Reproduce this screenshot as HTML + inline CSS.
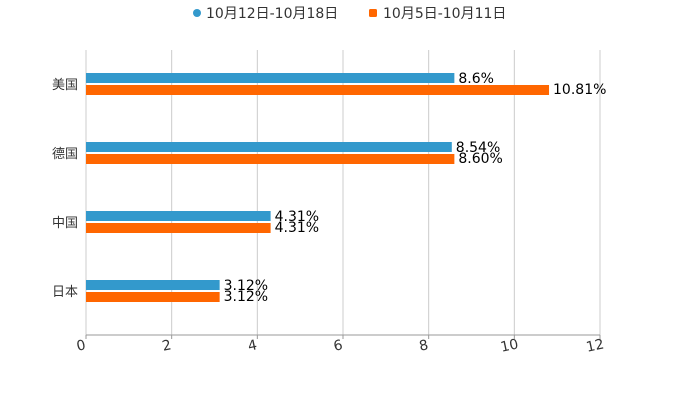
<!DOCTYPE html>
<html><head><meta charset="utf-8"><style>
body{margin:0;background:#fff;}
svg text{font-family:"DejaVu Sans","Noto Sans CJK SC",sans-serif;}
</style></head><body>
<svg id="c" width="700" height="400" xmlns="http://www.w3.org/2000/svg">
<g>
<g><circle cx="197" cy="13" r="4" fill="#3399cc"/><text x="206" y="18" font-size="14" fill="#333">10月12日-10月18日</text></g>
<g><rect x="369" y="9" width="8" height="8" rx="1.5" fill="#ff6600"/><text x="383" y="18" font-size="14" fill="#333">10月5日-10月11日</text></g>
</g>
<g id="grid"></g>
<g id="bars"></g>
<g id="axis"></g>
</svg>
<script>
const categories=["美国","德国","中国","日本"];
const series1=[8.6,8.54,4.31,3.12];
const labels1=["8.6%","8.54%","4.31%","3.12%"];
const series2=[10.81,8.60,4.31,3.12];
const labels2=["10.81%","8.60%","4.31%","3.12%"];
const ticks=[0,2,4,6,8,10,12];
const NS="http://www.w3.org/2000/svg";
const x0=86,x1=600,yTop=50,yBot=335,xmax=12;
const X=v=>x0+v/xmax*(x1-x0);
const band=69;
const Y=i=>84+band*i;
function mk(t,a,p){const e=document.createElementNS(NS,t);for(const k in a)e.setAttribute(k,a[k]);p.appendChild(e);return e;}
const g=document.getElementById('grid'),b=document.getElementById('bars'),ax=document.getElementById('axis');
ticks.forEach(t=>{
 const l=mk('line',{x1:X(t),x2:X(t),y1:yTop,y2:yBot,stroke:'#ccc','stroke-width':1},g);
 
 
 mk('line',{x1:X(t),x2:X(t),y1:yBot,y2:yBot+4,stroke:'#999'},ax);
 const tx=mk('text',{x:X(t)-4,y:yBot+15,'font-size':14,fill:'#333','text-anchor':'middle',transform:`rotate(-12 ${X(t)-4} ${yBot+15})`},ax);
 tx.textContent=t;
 
 
});
mk('line',{x1:x0,x2:x1,y1:yBot,y2:yBot,stroke:'#999'},ax);
categories.forEach((c,i)=>{
 const yc=Y(i);
 const lab=mk('text',{x:78,y:yc+5,'font-size':13,fill:'#333','text-anchor':'end'},ax);
 lab.textContent=c;
 
 
 const r1=mk('rect',{x:x0,y:yc-11,width:X(series1[i])-x0,height:10,fill:'#3399cc'},b);
 
 
 const r2=mk('rect',{x:x0,y:yc+1,width:X(series2[i])-x0,height:10,fill:'#ff6600'},b);
 
 
 const t1=mk('text',{x:X(series1[i])+4,y:yc-1,'font-size':14,fill:'#000'},b);
 t1.textContent=labels1[i];
 
 
 const t2=mk('text',{x:X(series2[i])+4,y:yc+10,'font-size':14,fill:'#000'},b);
 t2.textContent=labels2[i];
 
 
});
</script>
</body></html>
